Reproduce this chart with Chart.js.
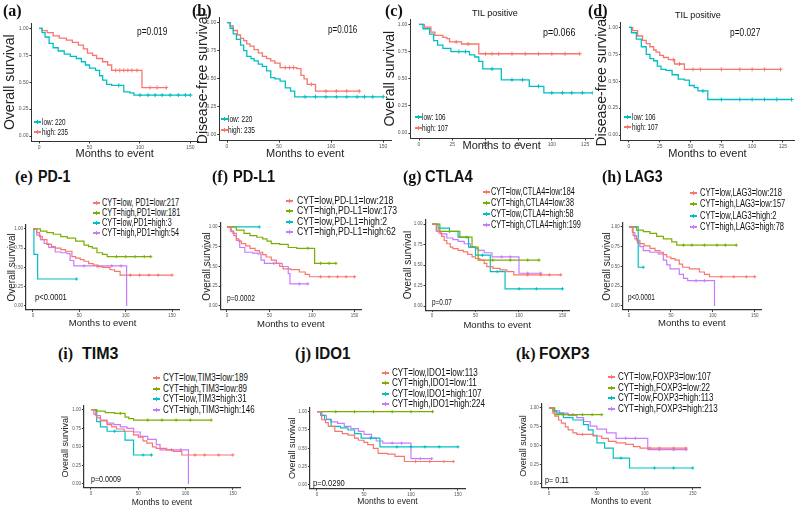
<!DOCTYPE html>
<html>
<head>
<meta charset="utf-8">
<script src="https://cdn.jsdelivr.net/npm/chart.js@4.4.0/dist/chart.umd.min.js"></script>
<style>
  html, body { margin: 0; padding: 0; background: #fff; }
  body { position: relative; width: 800px; height: 509px; overflow: hidden; font-family: "Liberation Sans", Arial, sans-serif; color: #111; }
  canvas { position: absolute; }
  .lbl { position: absolute; white-space: nowrap; line-height: 1.2; transform-origin: 0 50%; }
  .mk { position: absolute; }
</style>
</head>
<body>
<script>
// tick values
const xTicks150 = [0, 50, 100, 150];
const xTicks125 = [0, 25, 50, 75, 100, 125];
const yTicks = [0, 0.25, 0.5, 0.75, 1];

// survival curves: [month, survival]; a repeated survival value is a censor mark
// (a) overall survival
const aLow = [[0,1],[3,0.96],[6,0.92],[10,0.86],[14,0.82],[19,0.79],[25,0.76],[31,0.74],[37,0.72],[42,0.69],[46,0.66],[50,0.63],[56,0.61],[60,0.56],[63,0.52],[67,0.48],[72,0.47],[79,0.47],[84,0.41],[90,0.40],[94,0.38],[100,0.38],[108,0.38],[115,0.38],[122,0.38],[130,0.38],[138,0.38],[145,0.38],[150,0.38]];
const aHigh = [[0,1],[3,0.98],[8,0.96],[14,0.93],[20,0.91],[27,0.89],[33,0.87],[39,0.845],[44,0.81],[48,0.77],[53,0.75],[57,0.72],[63,0.69],[68,0.66],[72,0.61],[76,0.61],[80,0.61],[84,0.61],[88,0.61],[92,0.61],[97,0.61],[102,0.45],[110,0.45],[117,0.45],[126,0.45]];
// (b) disease-free survival
const bLow = [[0,1],[3,0.95],[6,0.90],[9,0.85],[13,0.80],[16,0.75],[19,0.70],[23,0.68],[26,0.66],[30,0.63],[34,0.61],[38,0.57],[42,0.51],[46,0.50],[51,0.48],[56,0.42],[61,0.39],[65,0.34],[75,0.34],[85,0.34],[95,0.34],[105,0.34],[115,0.34],[125,0.34],[132,0.34],[140,0.34],[150,0.34]];
const bHigh = [[0,1],[3,0.97],[6,0.93],[10,0.89],[13,0.86],[16,0.84],[19,0.81],[22,0.79],[26,0.76],[30,0.73],[34,0.70],[38,0.68],[42,0.66],[46,0.64],[51,0.60],[56,0.60],[60,0.60],[64,0.60],[67,0.59],[71,0.53],[74,0.50],[77,0.45],[81,0.45],[85,0.39],[95,0.39],[105,0.39],[115,0.39],[127,0.39]];
// (c) TIL positive, overall survival
const cLow = [[0,1],[3,0.96],[8,0.91],[11,0.85],[14,0.81],[18,0.78],[24,0.75],[30,0.75],[35,0.75],[38,0.72],[42,0.70],[45,0.66],[48,0.59],[55,0.59],[62,0.49],[70,0.49],[78,0.49],[83,0.43],[90,0.43],[94,0.37],[100,0.37],[108,0.37],[115,0.37],[123,0.37],[131,0.37]];
const cHigh = [[0,1],[4,0.975],[9,0.93],[12,0.90],[18,0.88],[21,0.87],[23,0.84],[28,0.84],[32,0.82],[37,0.82],[45,0.73],[50,0.73],[55,0.73],[60,0.73],[70,0.73],[80,0.73],[90,0.73],[100,0.73],[110,0.73],[121,0.73]];
// (d) TIL positive, disease-free survival
const dLow = [[0,1],[2,0.95],[6,0.89],[10,0.82],[14,0.75],[17,0.71],[20,0.69],[23,0.64],[26,0.61],[30,0.60],[35,0.56],[40,0.52],[45,0.51],[49,0.46],[53,0.44],[56,0.41],[60,0.41],[64,0.33],[75,0.33],[90,0.33],[100,0.33],[110,0.33],[120,0.33],[132,0.33]];
const dHigh = [[0,1],[3,0.97],[7,0.92],[11,0.88],[14,0.85],[17,0.82],[20,0.79],[22,0.77],[25,0.74],[28,0.72],[32,0.70],[36,0.70],[37,0.66],[41,0.66],[45,0.61],[52,0.61],[58,0.61],[75,0.61],[90,0.61],[100,0.61],[110,0.61],[123,0.61]];
// (e) PD-1
const eLL = [[0,1],[4,0.95],[7,0.90],[10,0.86],[15,0.80],[20,0.77],[24,0.75],[30,0.73],[35,0.71],[42,0.64],[46,0.62],[51,0.60],[55,0.58],[60,0.55],[65,0.53],[69,0.51],[75,0.50],[83,0.47],[88,0.45],[94,0.40],[105,0.40],[115,0.40],[125,0.40],[135,0.40],[150,0.40]];
const eHL = [[0,1],[8,0.97],[15,0.95],[22,0.93],[30,0.90],[37,0.88],[46,0.84],[55,0.79],[60,0.77],[64,0.75],[69,0.69],[75,0.67],[80,0.64],[90,0.64],[100,0.64],[110,0.64],[120,0.64],[127,0.64]];
const eLH = [[0,1],[1,0.67],[5,0.35],[47,0.35]];
const eHH = [[0,1],[4,0.92],[8,0.86],[12,0.81],[17,0.76],[24,0.70],[30,0.69],[37,0.68],[40,0.59],[44,0.52],[55,0.52],[70,0.52],[85,0.52],[95,0.52],[101,0]];
// (f) PD-L1
const fLL = [[0,1],[5,0.94],[8,0.89],[11,0.85],[14,0.82],[17,0.79],[22,0.76],[27,0.73],[33,0.70],[38,0.68],[42,0.65],[46,0.62],[52,0.58],[58,0.54],[62,0.50],[66,0.47],[75,0.46],[85,0.43],[92,0.40],[97,0.37],[110,0.37],[120,0.37],[130,0.37],[140,0.37],[150,0.37]];
const fHL = [[0,1],[11,0.96],[20,0.92],[27,0.89],[35,0.87],[42,0.85],[47,0.82],[52,0.79],[62,0.78],[72,0.74],[82,0.73],[95,0.73],[103,0.54],[110,0.54],[120,0.54],[128,0.54]];
const fLH = [[0,1],[38,1]];
const fHH = [[0,1],[4,0.95],[7,0.92],[11,0.83],[15,0.74],[21,0.68],[30,0.67],[36,0.66],[40,0.58],[44,0.54],[55,0.54],[65,0.50],[72,0.41],[74,0.28],[85,0.28],[95,0.28]];
// (g) CTLA4
const gLL = [[0,1],[5,0.93],[8,0.89],[11,0.85],[14,0.80],[17,0.76],[21,0.72],[24,0.70],[30,0.68],[36,0.66],[41,0.63],[46,0.60],[50,0.58],[55,0.56],[60,0.52],[63,0.48],[70,0.46],[78,0.44],[86,0.42],[94,0.38],[110,0.38],[125,0.38],[135,0.38],[148,0.38]];
const gHL = [[0,1],[9,0.91],[20,0.91],[32,0.84],[40,0.84],[46,0.72],[53,0.56],[70,0.56],[90,0.56],[110,0.56],[123,0.56]];
const gLH = [[0,1],[7,0.95],[20,0.91],[30,0.84],[42,0.72],[50,0.62],[58,0.62],[67,0.42],[75,0.42],[84,0.21],[100,0.21],[120,0.21],[150,0.21]];
const gHH = [[0,1],[5,0.91],[10,0.88],[17,0.83],[24,0.81],[30,0.79],[37,0.76],[44,0.72],[50,0.70],[53,0.68],[60,0.65],[69,0.60],[80,0.60],[90,0.60],[100,0.40],[110,0.40],[125,0.40]];
// (h) LAG3
const hLL = [[0,1],[5,0.89],[9,0.83],[13,0.79],[18,0.76],[25,0.73],[31,0.70],[37,0.68],[41,0.65],[45,0.62],[50,0.60],[55,0.58],[60,0.53],[64,0.49],[72,0.47],[84,0.43],[90,0.40],[96,0.37],[110,0.37],[125,0.37],[140,0.37],[150,0.37]];
const hHL = [[0,1],[9,0.96],[17,0.94],[25,0.92],[33,0.88],[41,0.85],[51,0.81],[57,0.77],[65,0.77],[75,0.77],[90,0.77],[105,0.77],[115,0.77],[128,0.77]];
const hLH = [[0,1],[11,0.49],[17,0.49]];
const hHH = [[0,1],[4,0.93],[7,0.85],[10,0.80],[13,0.75],[17,0.70],[25,0.68],[35,0.66],[41,0.58],[45,0.52],[49,0.47],[60,0.40],[65,0.35],[70,0.32],[80,0.32],[90,0.32],[102,0]];
// (i) TIM3
const iLL = [[0,1],[3,0.94],[6,0.89],[10,0.85],[17,0.80],[22,0.77],[27,0.74],[35,0.71],[45,0.66],[50,0.63],[55,0.58],[59,0.55],[65,0.50],[69,0.48],[80,0.46],[87,0.44],[96,0.39],[110,0.39],[120,0.39],[135,0.39],[150,0.39]];
const iHL = [[0,1],[6,0.98],[15,0.96],[25,0.95],[31,0.95],[36,0.90],[40,0.88],[45,0.86],[60,0.86],[75,0.86],[90,0.86],[105,0.86],[127,0.86]];
const iLH = [[0,1],[6,0.84],[10,0.77],[17,0.71],[25,0.71],[36,0.59],[45,0.39],[55,0.39],[64,0.39]];
const iHH = [[0,1],[5,0.92],[10,0.86],[17,0.82],[24,0.80],[31,0.77],[38,0.75],[45,0.70],[52,0.64],[60,0.60],[69,0.53],[73,0.46],[85,0.46],[95,0.46],[103,0]];
// (j) IDO1
const jLL = [[0,1],[5,0.89],[9,0.85],[12,0.80],[19,0.73],[27,0.70],[33,0.68],[40,0.64],[44,0.61],[50,0.58],[54,0.55],[60,0.50],[65,0.43],[75,0.42],[83,0.39],[93,0.32],[105,0.32],[120,0.32],[135,0.32],[145,0.32]];
const jHL = [[0,1],[20,1],[40,1],[60,1],[80,1],[100,1],[123,1]];
const jLH = [[0,1],[4,0.95],[8,0.89],[15,0.80],[25,0.78],[33,0.75],[40,0.70],[47,0.64],[57,0.64],[67,0.52],[85,0.52],[100,0.52],[115,0.52],[130,0.52],[150,0.52]];
const jHH = [[0,1],[5,0.95],[10,0.90],[15,0.86],[22,0.84],[29,0.80],[36,0.77],[44,0.73],[50,0.69],[58,0.64],[63,0.60],[70,0.57],[80,0.57],[90,0.57],[100,0.36],[110,0.36],[122,0.36]];
// (k) FOXP3
const kLL = [[0,1],[4,0.93],[6,0.89],[10,0.84],[13,0.80],[17,0.75],[20,0.71],[25,0.67],[29,0.65],[35,0.65],[46,0.63],[55,0.60],[62,0.56],[70,0.54],[80,0.52],[88,0.49],[95,0.47],[105,0.47],[115,0.47],[130,0.47],[143,0.47]];
const kHL = [[0,1],[6,0.91],[15,0.91],[25,0.91],[35,0.91],[45,0.91],[55,0.91]];
const kLH = [[0,1],[4,0.96],[8,0.93],[15,0.87],[25,0.84],[36,0.78],[41,0.71],[46,0.64],[50,0.54],[58,0.47],[67,0.34],[75,0.34],[84,0.21],[110,0.21],[130,0.21],[150,0.21]];
const kHH = [[0,1],[5,0.96],[11,0.93],[20,0.90],[29,0.87],[36,0.82],[43,0.76],[50,0.72],[60,0.67],[70,0.60],[80,0.60],[90,0.60],[103,0.45],[115,0.45],[130,0.45],[143,0.45]];

// legend labels and p values
const legendAB = ['low: 220', 'high: 235'];
const legendCD = ['low: 106', 'high: 107'];
const legendE = ['CYT=low, PD1=low:217', 'CYT=high,PD1=low:181', 'CYT=low,PD1=high:3', 'CYT=high,PD1=high:54'];
const legendF = ['CYT=low,PD-L1=low:218', 'CYT=high,PD-L1=low:173', 'CYT=low,PD-L1=high:2', 'CYT=high,PD-L1=high:62'];
const legendG = ['CYT=low,CTLA4=low:184', 'CYT=high,CTLA4=low:38', 'CYT=low,CTLA4=high:58', 'CYT=high,CTLA4=high:199'];
const legendH = ['CYT=low,LAG3=low:218', 'CYT=high,LAG3=low:157', 'CYT=low,LAG3=high:2', 'CYT=high,LAG3=high:78'];
const legendI = ['CYT=low,TIM3=low:189', 'CYT=high,TIM3=low:89', 'CYT=low,TIM3=high:31', 'CYT=high,TIM3=high:146'];
const legendJ = ['CYT=low,IDO1=low:113', 'CYT=high,IDO1=low:11', 'CYT=low,IDO1=high:107', 'CYT=high,IDO1=high:224'];
const legendK = ['CYT=low,FOXP3=low:107', 'CYT=high,FOXP3=low:22', 'CYT=low,FOXP3=high:113', 'CYT=high,FOXP3=high:213'];
const pValues = ['p=0.019', 'p=0.016', 'p=0.066', 'p=0.027', 'p<0.0001', 'p=0.0002', 'p=0.07', 'p<0.0001', 'p=0.0009', 'p=0.0290', 'p= 0.11'];

const RED = '#F8766D', TEAL = '#00BFC4', GREEN = '#7CAE00', PURPLE = '#C77CFF';
const four = [RED, GREEN, TEAL, PURPLE];

Chart.defaults.font.family = "'Liberation Sans', Arial, sans-serif";

const row1 = {tick: 5, ytSize: 14, xtSize: 11, lw: 1.3, cr: 2, axisW: 1};
const row2 = {tick: 4.5, ytSize: 10, xtSize: 9.5, lw: 1.2, cr: 1.6, axisW: 1.2};
const row3 = {tick: 4.5, ytSize: 9, xtSize: 8.5, lw: 1.2, cr: 1.6, axisW: 1.2};

const panels = [
  {x0: 39, kx: 1.007, y1: 28, y0: 136, xmin: -7.5, xmax: 157.5, xt: xTicks150, ytX: 10, xtY: 154, row: row1, yTitle: 'Overall survival', series: [[aLow, TEAL], [aHigh, RED]]},
  {x0: 227, kx: 1.04, y1: 23, y0: 135, xmin: -7.5, xmax: 157.5, xt: xTicks150, ytX: 203, xtY: 154, row: row1, yTitle: 'Disease-free survival', series: [[bLow, TEAL], [bHigh, RED]]},
  {x0: 419, kx: 1.328, y1: 24, y0: 133, xmin: -6.5, xmax: 131, xt: xTicks125, ytX: 390, xtY: 146, row: row1, yTitle: 'Overall survival', series: [[cLow, TEAL], [cHigh, RED]]},
  {x0: 629, kx: 1.232, y1: 27, y0: 135, xmin: -6.5, xmax: 134, xt: xTicks125, ytX: 602, xtY: 154, row: row1, yTitle: 'Disease-free survival', series: [[dLow, TEAL], [dHigh, RED]]},
  {x0: 33, kx: 0.927, y1: 229, y0: 306, xmin: -7.5, xmax: 157.5, xt: xTicks150, ytX: 12, xtY: 323, row: row2, yTitle: 'Overall survival', series: [eLL, eHL, eLH, eHH]},
  {x0: 227, kx: 0.853, y1: 227, y0: 306, xmin: -7.5, xmax: 157.5, xt: xTicks150, ytX: 207, xtY: 324, row: row2, yTitle: 'Overall survival', series: [fLL, fHL, fLH, fHH]},
  {x0: 432, kx: 0.867, y1: 224, y0: 306, xmin: -7.5, xmax: 157.5, xt: xTicks150, ytX: 408, xtY: 325, row: row2, yTitle: 'Overall survival', series: [gLL, gHL, gLH, gHH]},
  {x0: 629, kx: 0.84, y1: 227, y0: 306, xmin: -7.5, xmax: 157.5, xt: xTicks150, ytX: 607, xtY: 323, row: row2, yTitle: 'Overall survival', series: [hLL, hHL, hLH, hHH]},
  {x0: 91, kx: 0.947, y1: 410, y0: 484, xmin: -7.5, xmax: 157.5, xt: xTicks150, ytX: 65, xtY: 503, row: row3, yTitle: 'Overall survival', series: [iLL, iHL, iLH, iHH]},
  {x0: 317, kx: 0.94, y1: 412, y0: 485, xmin: -7.5, xmax: 157.5, xt: xTicks150, ytX: 292, xtY: 502, row: row3, yTitle: 'Overall survival', series: [jLL, jHL, jLH, jHH]},
  {x0: 549, kx: 0.96, y1: 408, y0: 484, xmin: -7.5, xmax: 157.5, xt: xTicks150, ytX: 523, xtY: 502, row: row3, yTitle: 'Overall survival', series: [kLL, kHL, kLH, kHH]}
];

function censored(ctx) {
  const i = ctx.dataIndex, d = ctx.dataset.data;
  return i > 0 && d[i] && d[i].y === d[i - 1].y;
}

function drawPanel(p) {
  const r = p.row;
  const ky = p.y0 - p.y1;
  const L = p.x0 + p.xmin * p.kx, R = p.x0 + p.xmax * p.kx;
  const T = p.y1 - 0.05 * ky, B = p.y0 + 0.05 * ky;
  const padT = 6, padR = 8;
  const left = Math.round(p.ytX - r.ytSize * 1.2 / 2);
  const top = Math.round(T - padT);
  const bottom = Math.round(p.xtY + r.xtSize * 1.2 / 2);
  const W = L - left, H = bottom - B;
  const cv = document.createElement('canvas');
  cv.width = Math.round(R + padR - left);
  cv.height = bottom - top;
  cv.style.left = left + 'px';
  cv.style.top = top + 'px';
  document.body.appendChild(cv);

  const sets = p.series.map((s, i) => {
    const pts = Array.isArray(s[1]) ? s : s[0];
    const col = Array.isArray(s[1]) ? four[i] : s[1];
    return {
      data: pts.map(([x, y]) => ({x, y})),
      borderColor: col, backgroundColor: col, pointBorderColor: col,
      borderWidth: r.lw, stepped: 'before', fill: false, tension: 0,
      pointStyle: 'cross', pointBorderWidth: 1,
      pointRadius: ctx => censored(ctx) ? r.cr : 0
    };
  });

  new Chart(cv, {
    type: 'line',
    data: {datasets: sets},
    options: {
      responsive: false, animation: false, events: [],
      layout: {padding: {left: 0, top: padT, right: padR, bottom: 0}},
      plugins: {legend: {display: false}, tooltip: {enabled: false}},
      scales: {
        x: {
          type: 'linear', min: p.xmin, max: p.xmax,
          afterFit: s => { s.height = H; },
          afterBuildTicks: s => { s.ticks = p.xt.map(v => ({value: v})); },
          ticks: {font: {size: r.tick}, color: '#555', padding: 1, maxRotation: 0, autoSkip: false},
          grid: {drawOnChartArea: false, drawTicks: true, tickLength: 2, color: '#333'},
          border: {display: true, color: '#333', width: r.axisW},
          title: {display: true, text: 'Months to event', font: {size: r.xtSize}, color: '#222', padding: 0}
        },
        y: {
          type: 'linear', min: -0.05, max: 1.05,
          afterFit: s => { s.width = W; },
          afterBuildTicks: s => { s.ticks = yTicks.map(v => ({value: v})); },
          ticks: {font: {size: r.tick}, color: '#555', padding: 1, callback: v => v.toFixed(2)},
          grid: {drawOnChartArea: false, drawTicks: true, tickLength: 2, color: '#333'},
          border: {display: true, color: '#333', width: r.axisW},
          title: {display: true, text: p.yTitle, font: {size: r.ytSize}, color: '#222', padding: 0}
        }
      }
    }
  });
}

panels.forEach(drawPanel);

// text overlays
function label(x, cy, text, size, o = {}) {
  const d = document.createElement('div');
  d.className = 'lbl';
  d.textContent = text;
  d.style.fontSize = size + 'px';
  d.style.top = Math.round(cy - size * 0.6) + 'px';
  d.style.left = x + 'px';
  if (o.bold) d.style.fontWeight = 'bold';
  if (o.serif) d.style.fontFamily = "'Liberation Serif', 'Times New Roman', serif";
  document.body.appendChild(d);
  if (o.center) d.style.left = Math.round(x - d.offsetWidth / 2) + 'px';
  if (o.w) d.style.transform = 'scaleX(' + (o.w / d.offsetWidth) + ')';
  return d;
}

function legend(mx, tx, cy, dy, w, size, labels, cols) {
  const els = labels.map((t, i) => {
    const y = Math.round(cy + i * dy);
    const ln = document.createElement('div');
    ln.className = 'mk';
    Object.assign(ln.style, {left: mx + 'px', top: (y - 1) + 'px', width: '7px', height: '2px', background: cols[i]});
    const tk = document.createElement('div');
    tk.className = 'mk';
    Object.assign(tk.style, {left: (mx + 3) + 'px', top: (y - 2) + 'px', width: '1px', height: '4px', background: cols[i]});
    document.body.appendChild(ln);
    document.body.appendChild(tk);
    return label(tx, y, t, size);
  });
  const k = w / Math.max(...els.map(e => e.offsetWidth));
  els.forEach(e => { e.style.transform = 'scaleX(' + k + ')'; });
}

// row 1
[['(a)', 3], ['(b)', 192], ['(c)', 385], ['(d)', 588]].forEach(([t, x]) => label(x, 11, t, 16, {bold: true, serif: true}));
label(495, 13, 'TIL positive', 9, {center: true});
label(698, 15, 'TIL positive', 9, {center: true});
label(137, 32, pValues[0], 10, {w: 30});
label(328, 30, pValues[1], 10, {w: 29});
label(543, 33, pValues[2], 10, {w: 32});
label(730, 33, pValues[3], 10, {w: 30});
legend(34, 42, 122, 10, 26, 9, legendAB, [TEAL, RED]);
legend(221, 228, 119, 11, 27, 9, legendAB, [TEAL, RED]);
legend(415, 422, 117, 11, 26, 9, legendCD, [TEAL, RED]);
legend(624, 632, 117, 10, 26, 9, legendCD, [TEAL, RED]);

// row 2
[['(e)', 15, 'PD-1', 38, 32], ['(f)', 212, 'PD-L1', 233, 42], ['(g)', 403, 'CTLA4', 425, 48], ['(h)', 602, 'LAG3', 625, 38]].forEach(([a, ax, b, bx, bw]) => {
  label(ax, 177, a, 16, {bold: true, serif: true});
  label(bx, 177, b, 16, {bold: true, w: bw});
});
label(35, 297, pValues[4], 9, {w: 32});
label(227, 298, pValues[5], 9, {w: 28});
label(432, 302, pValues[6], 9, {w: 20});
label(628, 297, pValues[7], 9, {w: 27});
legend(93, 102, 203, 10, 78, 10, legendE, four);
legend(286, 297, 201, 10.3, 100, 10, legendF, four);
legend(483, 491, 192, 11, 90, 10, legendG, four);
legend(690, 700, 193, 11.3, 85, 10, legendH, four);

// row 3
[['(i)', 58, 'TIM3', 82, 36], ['(j)', 295, 'IDO1', 315, 35], ['(k)', 516, 'FOXP3', 539, 50]].forEach(([a, ax, b, bx, bw]) => {
  label(ax, 354, a, 16, {bold: true, serif: true});
  label(bx, 354, b, 16, {bold: true, w: bw});
});
label(91, 479, pValues[8], 9, {w: 30});
label(313, 483, pValues[9], 9, {w: 32});
label(545, 480, pValues[10], 9, {w: 24});
legend(153, 163, 378, 10.7, 92, 10, legendI, four);
legend(382, 392, 373, 10.3, 93, 10, legendJ, four);
legend(608, 618, 377, 10.7, 100, 10, legendK, four);
</script>
</body>
</html>
